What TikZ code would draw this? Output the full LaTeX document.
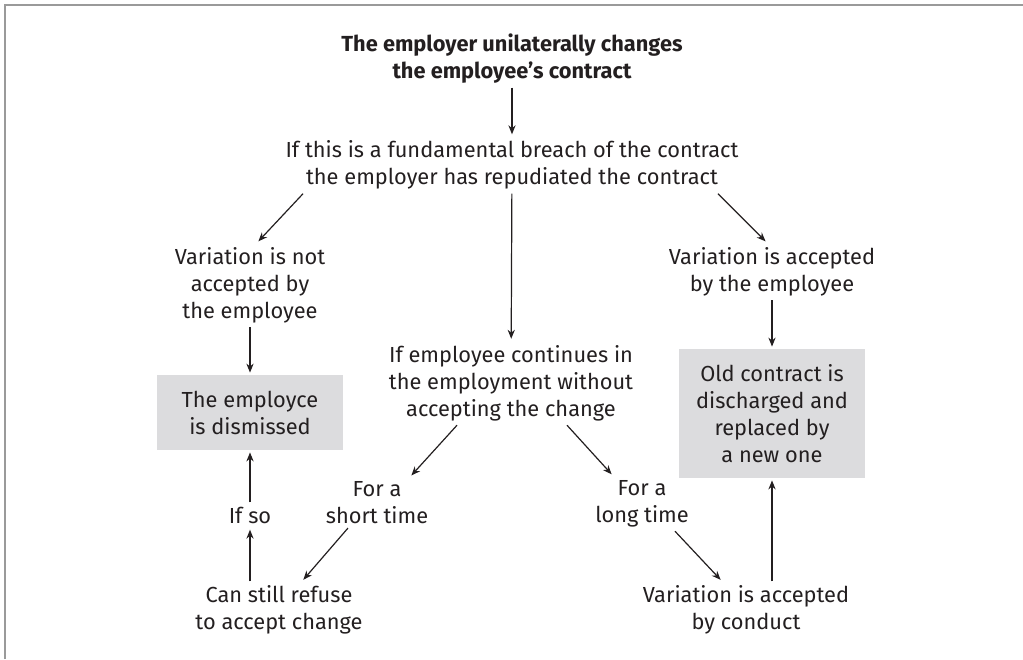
\documentclass[tikz,border=0pt]{standalone}
\usepackage{fontspec}
\setmainfont{Fira Sans}
\usetikzlibrary{arrows.meta,calc}
\definecolor{ink}{HTML}{231F20}
\definecolor{boxgray}{HTML}{DCDCDE}
\definecolor{framegray}{HTML}{9A9A9A}
\tikzset{
  txt/.style={align=center, inner sep=2pt, text=ink, font=\fontsize{10.9}{13.5}\selectfont},
  shaded/.style={txt, fill=boxgray, minimum width=93pt},
  arr/.style={-{Stealth[length=4.5pt,width=3.6pt]}, draw=ink, line width=0.6pt, shorten >=1pt},
}

\begin{document}
\begin{tikzpicture}[x=0.5pt, y=-0.5pt]
    \useasboundingbox (0,0) rectangle (1023,659);
    % frame
    \draw[framegray, line width=1.25pt] (5,659) -- (5,5) -- (1023,5);

    % top of the chart
    \node[txt, font=\fontsize{10.9}{13.5}\selectfont\bfseries] (change) at (512,58.5)
        {The employer unilaterally changes\\the employee's contract};
    \node[txt] (breach) at (512,165)
        {If this is a fundamental breach of the contract\\the employer has repudiated the contract};

    % three branches
    \node[txt] (refused) at (250,285) {Variation is not\\accepted by\\the employee};
    \node[txt] (accepted) at (772,271.5) {Variation is accepted\\by the employee};
    \node[txt] (continues) at (511,383)
        {If employee continues in\\the employment without\\accepting the change};

    % shaded outcomes
    \node[shaded, minimum height=37.5pt] (dismissed) at (250,412.5) {The employce\\is dismissed};
    \node[shaded, minimum height=64.5pt] (discharged) at (772,413.5)
        {Old contract is\\discharged and\\replaced by\\a new one};

    % short time / long time
    \node[txt] (short) at (377,502.5) {For a\\short time};
    \node[txt] (long) at (642,503.5) {For a\\long time};
    \node[txt] (ifso) at (250,515) {If so};
    \node[txt] (refuse) at (279,610) {Can still refuse\\to accept change};
    \node[txt] (conduct) at (746,610) {Variation is accepted\\by conduct};

    % connectors
    \draw[arr] (change) -- (breach);
    \draw[arr] ($(breach.south)+(-209,0)$) -- ($(refused.north)+(7,0)$);
    \draw[arr] ($(breach.south)+(206,0)$) -- ($(accepted.north)+(-5,0)$);
    \draw[arr] (breach) -- (continues);
    \draw[arr] (refused) -- (dismissed);
    \draw[arr] (accepted) -- (discharged);
    \draw[arr] ($(continues.south)+(-54,0)$) -- ($(short.north)+(33,0)$);
    \draw[arr] ($(continues.south)+(56,0)$) -- ($(long.north)+(-29,0)$);
    \draw[arr] ($(short.south)+(-29,0)$) -- ($(refuse.north)+(23,0)$);
    \draw[arr] ($(long.south)+(33,0)$) -- ($(conduct.north)+(-24,0)$);
    \draw[arr] (ifso.south |- refuse.north) -- (ifso.south);
    \draw[arr] (ifso) -- (dismissed);
    \draw[arr] (discharged.south |- conduct.north) -- (discharged.south);
\end{tikzpicture}
\end{document}
